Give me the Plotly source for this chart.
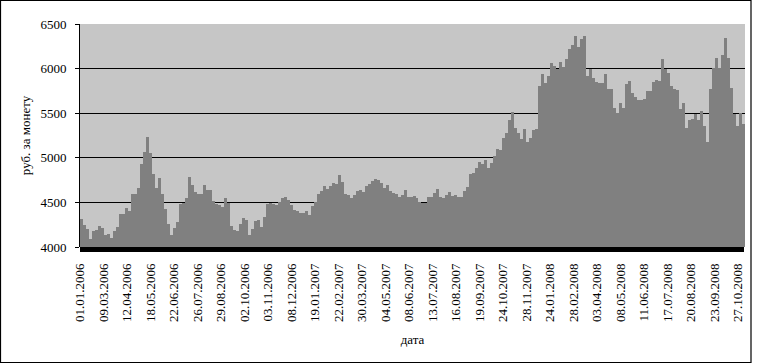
import plotly.graph_objects as go

# Price in rubles per coin, sampled along the time axis (about every 3 trading days)
prices = [
    4310, 4245, 4207, 4087, 4177, 4188, 4230, 4218, 4132, 4150, 4105, 4177, 4225, 4368, 4368, 4432,
    4406, 4594, 4594, 4662, 4932, 5060, 5233, 5053, 4820, 4658, 4778, 4590, 4421, 4256, 4132, 4218,
    4282, 4477, 4496, 4545, 4790,
    4696, 4620, 4594, 4594, 4696, 4640, 4640, 4515, 4481, 4470, 4444, 4545, 4496, 4237, 4196, 4180,
    4256, 4320, 4308, 4139, 4207, 4290, 4308, 4220, 4338, 4477, 4489, 4477, 4470, 4508, 4545, 4556,
    4526, 4470, 4414, 4406, 4376, 4376,
    4400, 4357, 4459, 4508, 4590, 4632, 4684, 4647, 4684, 4714, 4707, 4808, 4733, 4594, 4583, 4545,
    4583, 4632, 4640, 4620, 4684, 4703, 4744, 4760, 4752, 4722, 4658, 4696, 4632, 4609, 4594, 4556,
    4583, 4640, 4564, 4564, 4572,
    4553, 4508, 4490, 4490, 4556, 4556, 4602, 4650, 4556, 4545, 4583, 4617, 4575, 4583, 4564, 4564,
    4632, 4677, 4820, 4827, 4884, 4948, 4932, 4970, 4884, 4940, 5015, 5098, 5083, 5222, 5278, 5429,
    5512, 5335, 5278, 5211, 5320,
    5180, 5222, 5316, 5324, 5805, 5936, 5835, 5917, 6068, 6030, 6000, 6075, 6022, 6113, 6218, 6263,
    6361, 6237, 6331, 6369, 5917, 6000, 5899, 5850, 5843, 5843, 5936, 5767, 5767, 5560, 5500, 5609,
    5560, 5824, 5861, 5730, 5681, 5647,
    5647, 5654, 5748, 5748, 5850, 5872, 5861, 6106, 6000, 5955, 5805, 5775, 5760, 5549, 5609, 5335,
    5429, 5436, 5496, 5429, 5523, 5361, 5173, 5767, 6012, 6124, 6012, 6151, 6339, 6124, 5786, 5496,
    5354, 5504, 5384,
]

tick_labels = [
    "01.01.2006", "09.03.2006", "12.04.2006", "18.05.2006", "22.06.2006", "26.07.2006",
    "29.08.2006", "02.10.2006", "03.11.2006", "08.12.2006", "19.01.2007", "22.02.2007",
    "30.03.2007", "04.05.2007", "08.06.2007", "13.07.2007", "16.08.2007", "19.09.2007",
    "24.10.2007", "28.11.2007", "24.01.2008", "28.02.2008", "03.04.2008", "08.05.2008",
    "11.06.2008", "17.07.2008", "20.08.2008", "23.09.2008", "27.10.2008",
]

y_ticks = [4000, 4500, 5000, 5500, 6000, 6500]

SAMPLES_PER_LABEL = 7.846
LABEL_OFFSET = -0.45

x = list(range(len(prices)))
tickvals = [LABEL_OFFSET + k * SAMPLES_PER_LABEL for k in range(len(tick_labels))]

FONT = "Liberation Serif"

fig = go.Figure()
fig.add_trace(go.Bar(
    x=x, y=prices,
    marker=dict(color="#808080", line=dict(width=0)),
    hoverinfo="skip",
))

fig.update_layout(
    width=757, height=364,
    margin=dict(l=80, r=12, t=24, b=117),
    paper_bgcolor="white",
    plot_bgcolor="#c6c6c6",
    bargap=0,
    showlegend=False,
    font=dict(family=FONT, size=13, color="black"),
)

fig.update_xaxes(
    range=[-0.5, len(prices) - 0.5],
    tickmode="array", tickvals=tickvals, ticktext=tick_labels,
    tickangle=-90, ticks="", showgrid=False, zeroline=False, showline=False,
    ticklabelstandoff=13,
    tickfont=dict(family=FONT, size=13, color="black"),
    title=dict(text="дата", font=dict(family=FONT, size=13, color="black"), standoff=13),
)

fig.update_yaxes(
    range=[4000, 6500],
    tickmode="array", tickvals=y_ticks,
    ticks="outside", ticklen=4, tickcolor="black", tickwidth=1,
    showline=True, linecolor="black", linewidth=1,
    showgrid=True, gridcolor="black", gridwidth=1,
    zeroline=False,
    ticklabelstandoff=6,
    tickfont=dict(family=FONT, size=13, color="black"),
    title=dict(text="руб. за монету", font=dict(family=FONT, size=13, color="black"), standoff=6),
)

# black floor band under the plot area
fig.add_shape(type="rect", xref="paper", yref="paper",
              x0=0, x1=0.9985, y0=-5 / 223, y1=0,
              fillcolor="black", line=dict(width=0), layer="above")

# outer frame
fig.add_shape(type="rect", xref="paper", yref="paper",
              x0=(0.5 - 80) / 665, x1=(751 - 80) / 665,
              y0=(247 - 362.5) / 223, y1=(247 - 0.5) / 223,
              line=dict(color="black", width=1.2), fillcolor="rgba(0,0,0,0)")

fig.write_html(
    "out.html",
    config={"displayModeBar": False},
    post_script="document.body.style.margin='0';document.body.style.overflow='hidden';",
)
